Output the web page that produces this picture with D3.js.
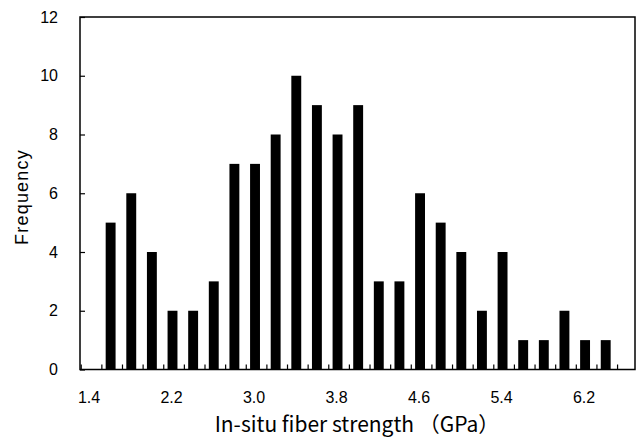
<!DOCTYPE html>
<html>
<head>
<meta charset="utf-8">
<script src="https://cdn.jsdelivr.net/npm/d3@7"></script>
<style>
  body { margin: 0; background: #fff; }
  svg text { fill: #000; }
</style>
</head>
<body>
<svg width="637" height="437"></svg>
<script>
"use strict";

// bin centres (GPa) and counts
var strength = [1.6, 1.8, 2.0, 2.2, 2.4, 2.6, 2.8, 3.0, 3.2, 3.4, 3.6, 3.8, 4.0,
                4.2, 4.4, 4.6, 4.8, 5.0, 5.2, 5.4, 5.6, 5.8, 6.0, 6.2, 6.4];
var frequency = [5, 6, 4, 2, 2, 3, 7, 7, 8, 10, 9, 8, 9,
                 3, 3, 6, 5, 4, 2, 4, 1, 1, 2, 1, 1];
var xTickLabels = [1.4, 2.2, 3.0, 3.8, 4.6, 5.4, 6.2];
var yTickLabels = [0, 2, 4, 6, 8, 10, 12];
var binEdges = [1.4, 1.6, 1.8, 2.0, 2.2, 2.4, 2.6, 2.8, 3.0, 3.2, 3.4, 3.6, 3.8, 4.0,
                4.2, 4.4, 4.6, 4.8, 5.0, 5.2, 5.4, 5.6, 5.8, 6.0, 6.2, 6.4, 6.6];

var plotLeft = 80, plotRight = 635, plotTop = 17, plotBottom = 369.5;

var xScale = d3.scaleLinear()
    .domain([1.4, 6.4])
    .range([90, 605.7]);

var yScale = d3.scaleLinear()
    .domain([0, 12])
    .range([plotBottom, plotTop]);

var svg = d3.select('svg');
var font = 'Arial, "Liberation Sans", sans-serif';

// bars
svg.append('g')
    .selectAll('rect')
    .data(strength)
    .enter()
    .append('rect')
    .attr('x', function (d) { return xScale(d - 0.048); })
    .attr('width', function (d) { return xScale(d + 0.048) - xScale(d - 0.048); })
    .attr('y', function (d, i) { return yScale(frequency[i]); })
    .attr('height', function (d, i) { return plotBottom - yScale(frequency[i]); })
    .style('fill', '#000');

// frame
svg.append('rect')
    .attr('x', plotLeft)
    .attr('y', plotTop)
    .attr('width', plotRight - plotLeft)
    .attr('height', plotBottom - plotTop)
    .style('fill', 'none')
    .style('stroke', '#000')
    .style('stroke-width', 1.5);

// y axis, ticks pointing inward
var yAxis = d3.axisLeft(yScale)
    .tickValues(yTickLabels)
    .tickSizeInner(-5)
    .tickSizeOuter(0)
    .tickPadding(22)
    .tickFormat(d3.format('d'));

var yg = svg.append('g')
    .attr('transform', 'translate(' + plotLeft + ',0)')
    .call(yAxis);
yg.select('.domain').remove();
yg.selectAll('line').style('stroke', '#000').style('stroke-width', 1.2);
yg.selectAll('text')
    .style('font-family', font)
    .style('font-size', '16px');

// x axis: small inward ticks between bins, labels every 0.8
var xg = svg.append('g')
    .attr('transform', 'translate(0,' + plotBottom + ')');

xg.selectAll('line')
    .data(binEdges)
    .enter()
    .append('line')
    .attr('x1', function (d) { return xScale(d - 0.085); })
    .attr('x2', function (d) { return xScale(d - 0.085); })
    .attr('y1', 0)
    .attr('y2', -5)
    .style('stroke', '#000')
    .style('stroke-width', 1.2);

xg.selectAll('text')
    .data(xTickLabels)
    .enter()
    .append('text')
    .attr('x', function (d) { return xScale(d) - 1; })
    .attr('y', 33.5)
    .attr('text-anchor', 'middle')
    .style('font-family', font)
    .style('font-size', '16px')
    .text(d3.format('.1f'));

// axis titles
svg.append('text')
    .attr('x', 357)
    .attr('y', 432)
    .attr('text-anchor', 'middle')
    .style('font-family', '"Noto Sans CJK JP", sans-serif')
    .style('font-size', '21px')
    .text('In-situ fiber strength （GPa）');

svg.append('text')
    .attr('transform', 'translate(28,197) rotate(-90)')
    .attr('text-anchor', 'middle')
    .style('font-family', font)
    .style('font-size', '18px')
    .style('letter-spacing', '1.2px')
    .text('Frequency');
</script>
</body>
</html>
